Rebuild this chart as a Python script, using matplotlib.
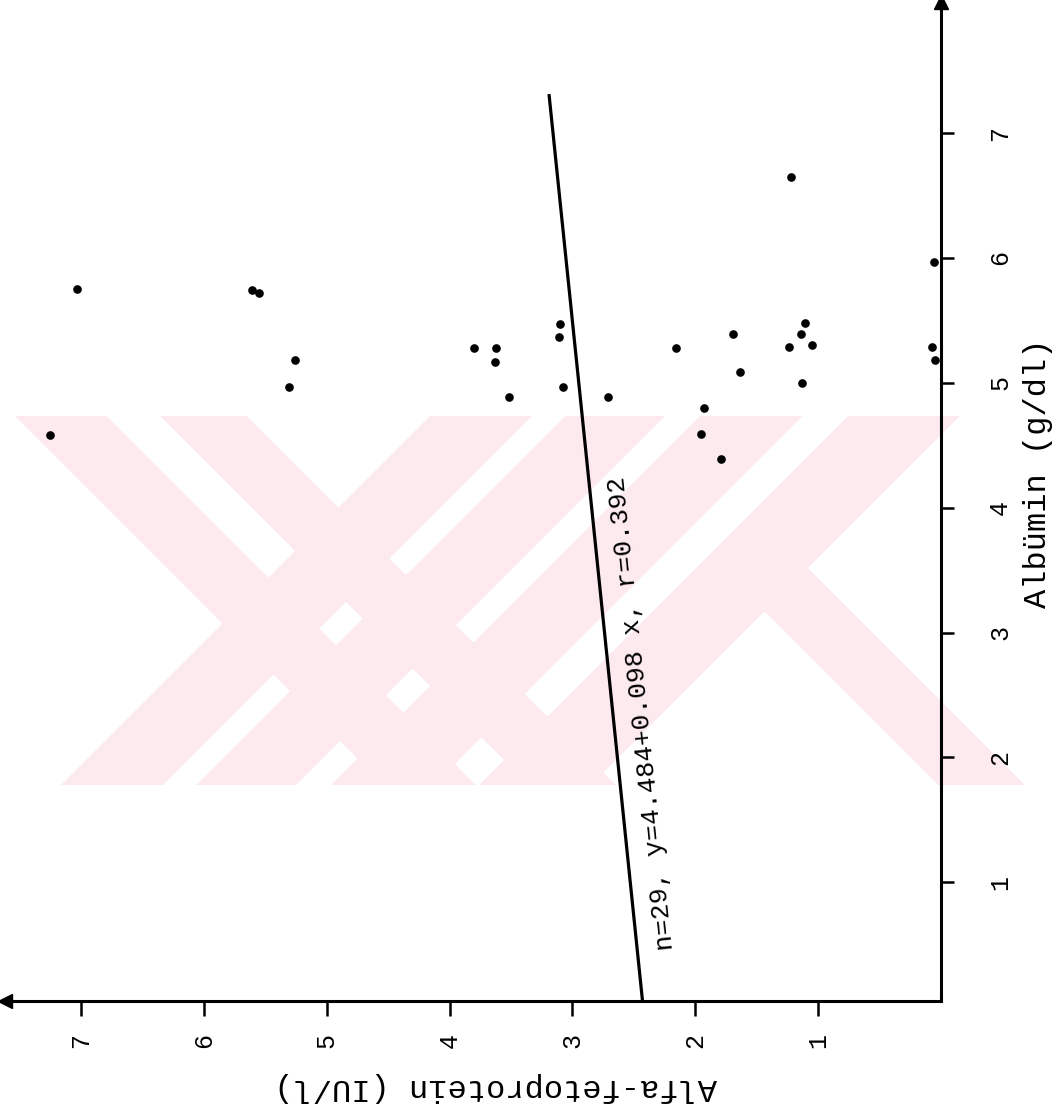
import matplotlib
matplotlib.use("Agg")
import matplotlib.pyplot as plt
from matplotlib.patches import Polygon
from matplotlib.transforms import Affine2D

# ---- data (Albumin g/dl on x, AFP IU/l on y of the original, rotated chart) ----
albumin = [5.75, 5.74, 5.72, 5.18, 4.97, 4.58, 5.28, 5.28, 5.17, 4.89,
           5.47, 5.37, 4.97, 4.89, 5.09, 5.00, 4.80, 4.59, 4.39, 5.18,
           6.65, 5.97, 5.39, 5.48, 5.39, 5.29, 5.30, 5.29, 5.28]
afp = [7.03, 5.61, 5.55, 5.26, 5.31, 7.25, 3.80, 3.62, 3.63, 3.52,
       3.10, 3.11, 3.08, 2.71, 1.64, 1.13, 1.93, 1.95, 1.79, 0.05,
       1.22, 0.06, 1.69, 1.11, 1.14, 1.24, 1.05, 0.07, 2.16]
line_albumin = [0.05, 7.30]
line_afp = [2.43, 3.19]
albumin_ticks = [1, 2, 3, 4, 5, 6, 7]
afp_ticks = [1, 2, 3, 4, 5, 6, 7]
annotation = "n=29, y=4.484+0.098 x, r=0.392"
xlabel = "Albümin (g/dl)"
ylabel = "Alfa-fetoprotein (IU/l)"

W, H = 1064, 1114
fig = plt.figure(figsize=(W / 100, H / 100), dpi=100)
mono = ['Liberation Mono', 'DejaVu Sans Mono']

# ---- faint pink scan watermark (pixel coords, from top-left) ----
pix = Affine2D().scale(1 / W, -1 / H).translate(0, 1) + fig.transFigure
wm_color = '#fdeaee'
y_top, y_bot = 416, 785
hgt = y_bot - y_top
# down-right stripes (x range at top edge)
for x0, x1 in [(15, 107), (160, 247)]:
    fig.add_artist(Polygon([(x0, y_top), (x1, y_top), (x1 + hgt, y_bot), (x0 + hgt, y_bot)],
                           closed=True, transform=pix, facecolor=wm_color,
                           edgecolor='none', zorder=-5))
# down-left stripes (x range at top edge)
for x0, x1 in [(430, 532), (565, 665), (700, 803), (848, 960)]:
    fig.add_artist(Polygon([(x0, y_top), (x1, y_top), (x1 - hgt, y_bot), (x0 - hgt, y_bot)],
                           closed=True, transform=pix, facecolor=wm_color,
                           edgecolor='none', zorder=-5))
# lower arm
ys = 567
fig.add_artist(Polygon([(720, ys), (807, ys), (807 + y_bot - ys, y_bot), (720 + y_bot - ys, y_bot)],
                       closed=True, transform=pix, facecolor=wm_color,
                       edgecolor='none', zorder=-5))

# axes placement in pixels
left_px, right_px = 5, 941
bottom_px, top_px = 1001, 2
ax = fig.add_axes([left_px / W, 1 - bottom_px / H,
                   (right_px - left_px) / W, (bottom_px - top_px) / H])
ax.patch.set_visible(False)
ax.set_xlim(7.62, 0)      # AFP, increasing to the left
ax.set_ylim(0.05, 8.05)   # Albumin, increasing upward

for s in ['top', 'left']:
    ax.spines[s].set_visible(False)
for s in ['right', 'bottom']:
    ax.spines[s].set_linewidth(2.2)
    ax.spines[s].set_color('black')

ax.yaxis.tick_right()
ax.set_xticks(afp_ticks)
ax.set_yticks(albumin_ticks)
ax.set_xticklabels([str(t) for t in afp_ticks], rotation=90, family=mono, fontsize=18)
ax.set_yticklabels([str(t) for t in albumin_ticks], rotation=90, family=mono,
                   fontsize=18, va='center')
ax.tick_params(axis='x', direction='out', length=11, width=1.8, pad=12)
ax.tick_params(axis='y', direction='out', length=9, width=1.8, pad=25)

# arrows at ends of axes
ax.plot([0], [0], marker='<', color='black', ms=10, transform=ax.transAxes, clip_on=False)
ax.plot([1], [1], marker='^', color='black', ms=10, transform=ax.transAxes, clip_on=False)

# data
ax.plot(afp, albumin, 'o', color='black', ms=5.2, clip_on=False, zorder=5)
ax.plot(line_afp, line_albumin, '-', color='black', lw=2.3)

ax.text(2.44, 2.35, annotation, rotation=95.9, rotation_mode='anchor',
        ha='center', va='center', family=mono, fontsize=19)

# axis titles (rotated as in the scanned page)
fig.text(1038 / W, 1 - 473 / H, xlabel, rotation=90, ha='center', va='center',
         family=mono, fontsize=23)
fig.text(496 / W, 1 - 1087 / H, ylabel, rotation=180, ha='center', va='center',
         family=mono, fontsize=23)

fig.savefig('out.png', dpi=100)
